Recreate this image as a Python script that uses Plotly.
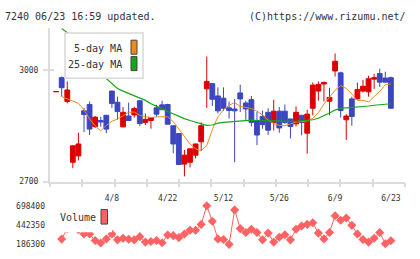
import plotly.graph_objects as go

W, H = 420, 259

dates = ["3/25", "3/26", "3/27", "3/28", "3/31", "4/1", "4/2", "4/3", "4/4", "4/7",
         "4/8", "4/9", "4/10", "4/11", "4/14", "4/15", "4/16", "4/17", "4/18", "4/21",
         "4/22", "4/23", "4/24", "4/25", "4/28", "4/30", "5/1", "5/7", "5/8", "5/9",
         "5/12", "5/13", "5/14", "5/15", "5/16", "5/19", "5/20", "5/21", "5/22", "5/23",
         "5/26", "5/27", "5/28", "5/29", "5/30", "6/2", "6/3", "6/4", "6/5", "6/6",
         "6/9", "6/10", "6/11", "6/12", "6/13", "6/16", "6/17", "6/18", "6/19", "6/20",
         "6/23"]

open_ = [2941, 2979, 2915, 2752, 2769, 2890, 2907, 2848, 2864, 2878,
         2943, 2913, 2847, 2876, 2879, 2917, 2859, 2864, 2898, 2906,
         2907, 2850, 2829, 2747, 2752, 2771, 2807, 2949, 2963, 2930,
         2924, 2898, 2895, 2938, 2911, 2920, 2864, 2875, 2886, 2859,
         2889, 2889, 2868, 2855, 2878, 2830, 2897, 2943, 2962, 2916,
         2997, 2992, 2866, 2922, 2922, 2943, 2941, 2975, 2990, 2978,
         2979]
high = [2942, 2982, 2969, 2797, 2831, 2898, 2915, 2876, 2874, 2879,
        2944, 2928, 2900, 2912, 2901, 2918, 2883, 2874, 2906, 2917,
        2909, 2851, 2830, 2785, 2789, 2802, 2859, 3036, 2964, 2953,
        2953, 2915, 2922, 2960, 2917, 2930, 2887, 2891, 2897, 2920,
        2900, 2907, 2869, 2902, 2879, 2893, 2966, 2969, 2969, 2952,
        3044, 2995, 2881, 2928, 2966, 2973, 2984, 2989, 3003, 2995,
        2982]
low = [2941, 2928, 2910, 2736, 2757, 2833, 2825, 2844, 2848, 2830,
       2898, 2866, 2846, 2864, 2872, 2849, 2852, 2842, 2874, 2893,
       2854, 2776, 2745, 2714, 2738, 2762, 2782, 2898, 2903, 2883,
       2890, 2869, 2752, 2887, 2866, 2848, 2798, 2842, 2825, 2837,
       2831, 2855, 2816, 2848, 2824, 2775, 2878, 2917, 2915, 2878,
       2982, 2872, 2812, 2850, 2921, 2939, 2928, 2949, 2954, 2966,
       2896]
close = [2942, 2952, 2946, 2796, 2801, 2880, 2841, 2873, 2860, 2841,
         2910, 2888, 2886, 2864, 2896, 2856, 2867, 2872, 2881, 2893,
         2854, 2801, 2746, 2771, 2788, 2801, 2850, 2969, 2921, 2890,
         2897, 2891, 2890, 2922, 2895, 2859, 2825, 2853, 2838, 2889,
         2844, 2859, 2848, 2886, 2859, 2881, 2959, 2961, 2966, 2926,
         3023, 2891, 2876, 2875, 2947, 2956, 2976, 2979, 2967, 2967,
         2897]

ma5 = [None, 2928, 2922, 2916, 2910, 2893, 2868, 2850, 2836, 2851,
       2862, 2868, 2877, 2886, 2887, 2878, 2874, 2872, 2874, 2875,
       2874, 2861, 2841, 2818, 2801, 2788, 2783, 2797, 2840, 2874,
       2893, 2905, 2912, 2902, 2898, 2896, 2889, 2879, 2865, 2856,
       2851, 2850, 2855, 2860, 2861, 2863, 2870, 2885, 2908, 2928,
       2945, 2958, 2950, 2935, 2918, 2918, 2914, 2928, 2942, 2960,
       2962]
ma25 = [None, 3111, 3100, 3080, 3060, 3040, 3020, 3003, 2990, 2977,
        2962, 2950, 2943, 2937, 2931, 2925, 2918, 2909, 2903, 2896,
        2888, 2881, 2875, 2869, 2864, 2860, 2856, 2851, 2852, 2857,
        2859, 2860, 2862, 2863, 2864, 2865, 2864, 2863, 2863, 2863,
        2862, 2862, 2862, 2862, 2863, 2864, 2866, 2870, 2876, 2884,
        2892, 2897, 2898, 2899, 2900, 2902, 2903, 2905, 2906, 2908,
        2909]

volume = [None, 256000, 395000, 410000, 380000, 322900, 322900, 237500, 203400, 258900,
          322900, 246000, 267400, 254600, 246000, 288700, 216200, 224700, 237500, 207600,
          310000, 301500, 276000, 322900, 374000, 374000, 450900, 698400, 493600, 258900,
          250300, 186300, 643000, 395400, 344200, 386900, 344200, 246000, 335700, 216200,
          280200, 314300, 246000, 386900, 429500, 450900, 472200, 335700, 258900, 344200,
          566100, 506400, 536200, 438100, 322900, 250300, 216200, 267400, 344200, 194800,
          233200]

tick_dates = ["4/8", "4/22", "5/12", "5/26", "6/9", "6/23"]
price_ticks = [2700, 3000]
price_range = [2700, 3112]
vol_ticks = [186300, 442350, 698400]
vol_ticktext = ["186300", "442350", "698400"]

RED = "#dc0000"
BLUE = "#3c46c0"
ORANGE = "#f08a1c"
GREEN = "#14a814"
VOLC = "#ff6262"
AXC = "#dcdcdc"
TXT = "#333333"
FONT = "DejaVu Sans Mono"


def px(x):
    return x / W


def py(y):
    return 1 - y / H


xr = [-1.093, 62.53]

fig = go.Figure()
fig.add_trace(go.Candlestick(
    x=dates, open=open_, high=high, low=low, close=close,
    increasing=dict(line=dict(color=RED, width=1), fillcolor=RED),
    decreasing=dict(line=dict(color=BLUE, width=1), fillcolor=BLUE),
    whiskerwidth=0, showlegend=False, xaxis="x", yaxis="y"))
fig.add_trace(go.Scatter(x=dates, y=ma5, mode="lines", line=dict(color=ORANGE, width=1),
                         showlegend=False, xaxis="x", yaxis="y"))
fig.add_trace(go.Scatter(x=dates, y=ma25, mode="lines", line=dict(color=GREEN, width=1.2),
                         showlegend=False, xaxis="x", yaxis="y"))
fig.add_trace(go.Scatter(x=dates, y=volume, mode="lines+markers",
                         line=dict(color=VOLC, width=1),
                         marker=dict(symbol="diamond", size=7, color=VOLC),
                         cliponaxis=False, showlegend=False, xaxis="x2", yaxis="y2"))
# invisible helpers so the decorative tick axes render
fig.add_trace(go.Scatter(x=[0], y=[price_range[0]], mode="markers", marker=dict(opacity=0),
                         hoverinfo="skip", showlegend=False, xaxis="x3", yaxis="y"))
fig.add_trace(go.Scatter(x=[0], y=[price_range[0]], mode="markers", marker=dict(opacity=0),
                         hoverinfo="skip", showlegend=False, xaxis="x4", yaxis="y"))
fig.add_trace(go.Scatter(x=[dates[0]], y=[price_range[0]], mode="markers", marker=dict(opacity=0),
                         hoverinfo="skip", showlegend=False, xaxis="x", yaxis="y3"))

xdom = [px(50), px(405)]
fig.update_layout(
    width=W, height=H, margin=dict(l=0, r=0, t=0, b=0),
    paper_bgcolor="white", plot_bgcolor="white",
    font=dict(family=FONT, size=8, color=TXT),
    boxgap=0.14, boxgroupgap=0,
    showlegend=False,
    xaxis=dict(domain=xdom, anchor="y", type="category", range=xr,
               tickvals=tick_dates, ticktext=tick_dates, ticks="",
               showline=True, linecolor=AXC, linewidth=2, showgrid=False, zeroline=False,
               rangeslider=dict(visible=False), ticklabelstandoff=8,
               tickfont=dict(family=FONT, size=8, color=TXT)),
    yaxis=dict(domain=[py(184), py(25)], anchor="x", range=price_range,
               tickvals=price_ticks, ticks="outside", ticklen=5, tickwidth=2, tickcolor=AXC,
               showline=True, linecolor=AXC, linewidth=2, showgrid=False, zeroline=False,
               ticklabelstandoff=3, tickfont=dict(family=FONT, size=8, color=TXT)),
    xaxis3=dict(overlaying="x", anchor="y", range=[0, 11], tickvals=list(range(12)),
                ticks="outside", ticklen=4, tickwidth=2, tickcolor=AXC,
                showticklabels=False, showline=False, showgrid=False, zeroline=False),
    xaxis4=dict(overlaying="x", anchor="y", range=[0, 11], tickvals=list(range(12)),
                ticks="inside", ticklen=3, tickwidth=2, tickcolor=AXC,
                showticklabels=False, showline=False, showgrid=False, zeroline=False),
    yaxis3=dict(overlaying="y", anchor="x", side="left", range=price_range,
                tickvals=price_ticks, ticks="inside", ticklen=4, tickwidth=2, tickcolor=AXC,
                showticklabels=False, showline=False, showgrid=False, zeroline=False),
    xaxis2=dict(domain=xdom, anchor="y2", type="category", range=xr,
                showticklabels=False, ticks="", showline=False, showgrid=False, zeroline=False),
    yaxis2=dict(domain=[py(249), py(209)], anchor="x2", range=[vol_ticks[0], vol_ticks[-1]],
                tickvals=vol_ticks, ticktext=vol_ticktext, ticks="", showline=False,
                showgrid=False, zeroline=False, ticklabelstandoff=4,
                tickfont=dict(family=FONT, size=8, color=TXT)),
)

shapes = [
    # price legend box
    dict(type="rect", xref="paper", yref="paper", x0=px(65), x1=px(143), y0=py(77), y1=py(30),
         fillcolor="white", line=dict(color="#d8d8d8", width=1.5), layer="above"),
    dict(type="rect", xref="paper", yref="paper", x0=px(131), x1=px(137), y0=py(52), y1=py(37.5),
         fillcolor=ORANGE, line=dict(color="#444444", width=1), layer="above"),
    dict(type="rect", xref="paper", yref="paper", x0=px(131), x1=px(137), y0=py(69), y1=py(54.5),
         fillcolor=GREEN, line=dict(color="#444444", width=1), layer="above"),
    # volume legend box
    dict(type="rect", xref="paper", yref="paper", x0=px(54), x1=px(112), y0=py(236.5), y1=py(205),
         fillcolor="white", line=dict(width=0), layer="above"),
    dict(type="rect", xref="paper", yref="paper", x0=px(101), x1=px(107.5), y0=py(228), y1=py(213),
         fillcolor=VOLC, line=dict(color="#444444", width=1), layer="above"),
]
fig.update_layout(shapes=shapes)

ann = [
    dict(text="7240 06/23 16:59 updated.", x=px(3), y=py(13), xanchor="left", yanchor="middle",
         font=dict(family=FONT, size=10, color=TXT)),
    dict(text="(C)https://www.rizumu.net/", x=px(408), y=py(13), xanchor="right", yanchor="middle",
         font=dict(family=FONT, size=10, color=TXT)),
    dict(text="5-day MA", x=px(124), y=py(46), xanchor="right", yanchor="middle",
         font=dict(family=FONT, size=10, color=TXT)),
    dict(text="25-day MA", x=px(124), y=py(62.5), xanchor="right", yanchor="middle",
         font=dict(family=FONT, size=10, color=TXT)),
    dict(text="Volume", x=px(58), y=py(221.5), xanchor="left", yanchor="middle",
         font=dict(family=FONT, size=10, color=TXT)),
]
for a in ann:
    a.update(xref="paper", yref="paper", showarrow=False)
fig.update_layout(annotations=ann)

fig.write_html("out.html")
